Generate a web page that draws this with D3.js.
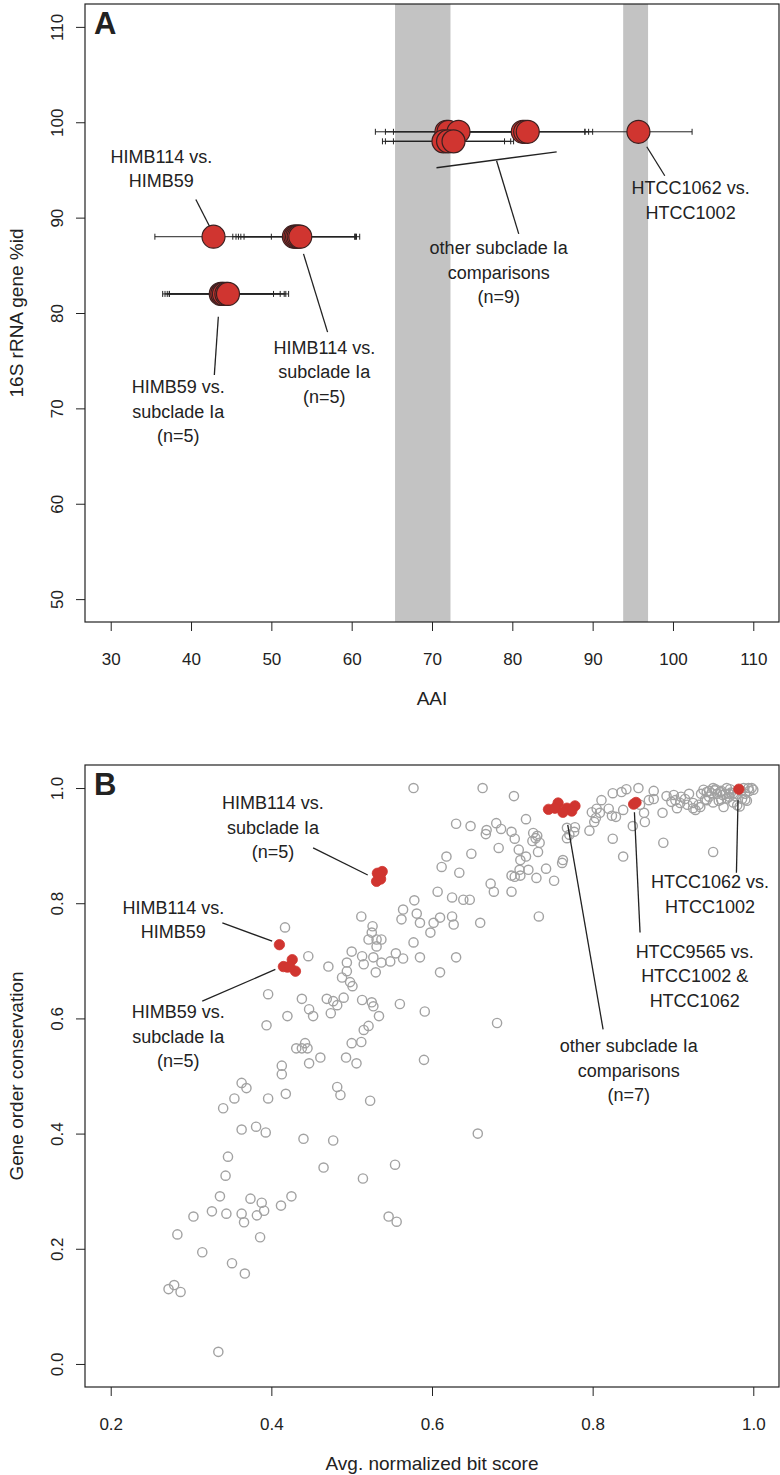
<!DOCTYPE html>
<html><head><meta charset="utf-8">
<script src="https://cdn.jsdelivr.net/npm/d3@7"></script>
<style>body{margin:0;background:#fff}svg{display:block}text{font-family:"Liberation Sans",Arial,sans-serif;fill:#222}</style>
</head><body><svg id="c" width="780" height="1475"></svg>
<script>
// ---------- Panel A data ----------
const aTicksX = [30,40,50,60,70,80,90,100,110];
const aTicksY = [50,60,70,80,90,100,110];
const aBands = [[65.4,72.3],[93.8,96.9]];
// points: AAI, 16S id, error low, error high
const aAAI   = [42.8, 52.8,53.0,53.2,53.4,53.6, 43.7,43.9,44.1,44.4,44.6, 71.8,72.06,73.3,81.3,81.6,81.92, 71.43,72.0,72.68, 95.7];
const aRRNA  = [88, 88,88,88,88,88, 82,82,82,82,82, 99,99,99,99,99,99, 98,98,98, 99];
const aErrLo = [35.5, 45.2,45.6,45.9,46.2,46.6, 36.47,36.76,37.04,37.3,37.3, 62.95,64.2,65.2,73.4,73.7,74.05, 63.83,64.2,65.2, 89.04];
const aErrHi = [50.0, 60.4,60.4,60.5,60.6,61.0, 50.27,51.1,51.6,52.15,51.8, 80.65,79.96,81.4,89.04,89.5,90.0, 79.03,79.8,80.16, 102.38];
const aLabels = [
  {lines:["HIMB114 vs.","HIMB59"], x:36.3, y:96.4, seg:[[40.6,91.9],[42.3,89.1]]},
  {lines:["HIMB59 vs.","subclade Ia","(n=5)"], x:38.4, y:72.2, seg:[[43.4,79.6],[42.9,73.5]]},
  {lines:["HIMB114 vs.","subclade Ia","(n=5)"], x:56.6, y:76.35, seg:[[54.0,86.2],[57.0,78.0]]},
  {lines:["other subclade Ia","comparisons","(n=9)"], x:78.3, y:86.8, seg:[[78.04,95.96],[80.8,88.3]], bracket:[[70.56,95.23],[85.52,96.9]]},
  {lines:["HTCC1062 vs.","HTCC1002"], x:102.2, y:93.1, seg:[[96.74,97.43],[98.98,94.39]]}
];

// ---------- Panel B data ----------
const bTicksX = [0.2,0.4,0.6,0.8,1.0];
const bTicksY = [0.0,0.2,0.4,0.6,0.8,1.0];
const grayX = [0.577,0.663,0.702,0.630,0.648,0.667,0.668,0.680,0.686,0.699,0.703,0.717,0.726,0.729,0.734,0.725,0.683,0.649,0.618,0.612,0.634,0.673,0.677,0.699,0.699,0.708,0.710,0.717,0.720,0.709,0.703,0.710,0.731,0.732,0.742,0.730,0.752,0.763,0.762,0.768,0.771,0.777,0.768,0.778,0.796,0.802,0.804,0.805,0.811,0.820,0.825,0.836,0.842,0.857,0.829,0.825,0.838,0.850,0.864,0.865,0.876,0.876,0.888,0.887,0.892,0.898,0.901,0.903,0.909,0.915,0.918,0.925,0.932,0.938,0.942,0.948,0.953,0.959,0.963,0.950,0.967,0.971,0.975,0.988,0.994,1.000,0.986,0.934,0.928,0.942,0.799,0.809,0.824,0.838,0.859,0.870,
0.945,0.950,0.955,0.960,0.965,0.970,0.975,0.980,0.985,0.990,0.995,0.998,0.990,0.980,0.970,0.960,0.950,0.940,0.935,0.945,0.905,0.910,0.920,0.925,0.957,0.967,0.978,0.992,0.983,0.962,0.952,0.972,
0.533,0.607,0.625,0.578,0.564,0.562,0.581,0.585,0.602,0.598,0.610,0.625,0.627,0.639,0.647,0.660,0.733,0.630,0.610,0.681,0.657,0.512,0.526,0.525,0.521,0.531,0.537,0.531,0.577,0.417,0.446,0.471,0.500,0.494,0.513,0.515,0.527,0.537,0.548,0.555,0.564,0.585,0.530,0.494,0.488,0.498,0.501,0.490,0.477,0.469,0.396,0.438,0.513,0.525,0.527,0.560,0.591,
0.394,0.420,0.447,0.452,0.474,0.482,0.534,0.521,0.515,0.500,0.512,0.431,0.438,0.442,0.445,0.461,0.447,0.493,0.506,0.590,0.413,0.413,0.363,0.369,0.354,0.340,0.396,0.418,0.482,0.486,0.523,0.363,0.381,0.393,0.440,0.477,0.346,0.343,0.465,0.514,0.554,0.336,0.374,0.388,0.425,0.326,0.344,0.363,0.366,0.382,0.391,0.412,0.303,0.386,0.283,0.314,0.351,0.367,0.546,0.556,0.272,0.279,0.287,0.334];
const grayY = [1.000,1.000,0.986,0.938,0.934,0.920,0.927,0.939,0.929,0.924,0.912,0.946,0.922,0.913,0.905,0.908,0.896,0.886,0.881,0.863,0.853,0.834,0.820,0.848,0.820,0.893,0.875,0.881,0.858,0.858,0.846,0.848,0.917,0.889,0.860,0.844,0.839,0.875,0.870,0.913,0.919,0.924,0.931,0.932,0.926,0.941,0.948,0.964,0.979,0.964,0.991,0.993,0.998,1.000,0.950,0.912,0.881,0.934,0.957,0.941,0.995,0.981,0.905,0.957,0.986,0.976,0.988,0.979,0.974,0.981,0.971,0.974,0.971,0.997,0.993,0.991,0.998,0.993,0.967,0.889,1.000,0.998,0.991,1.000,1.000,0.997,0.981,0.967,0.962,0.979,0.958,0.957,0.952,0.962,0.971,0.979,
0.985,0.975,0.990,0.980,0.990,0.985,0.975,0.990,0.995,0.990,0.995,1.000,0.980,0.970,0.990,0.995,1.000,0.980,0.990,0.995,0.965,0.985,0.990,0.965,0.978,0.982,0.986,0.978,0.968,0.988,0.996,0.992,
0.849,0.820,0.810,0.805,0.789,0.772,0.782,0.766,0.766,0.749,0.775,0.777,0.763,0.806,0.806,0.766,0.777,0.706,0.680,0.592,0.400,0.777,0.760,0.749,0.737,0.737,0.737,0.725,0.732,0.758,0.708,0.690,0.716,0.697,0.708,0.694,0.706,0.697,0.699,0.713,0.704,0.706,0.680,0.682,0.671,0.663,0.656,0.636,0.630,0.634,0.642,0.634,0.632,0.628,0.621,0.625,0.612,
0.588,0.604,0.616,0.604,0.609,0.623,0.604,0.587,0.580,0.557,0.559,0.548,0.548,0.557,0.548,0.532,0.522,0.532,0.522,0.528,0.518,0.503,0.488,0.479,0.461,0.444,0.461,0.469,0.481,0.467,0.457,0.407,0.412,0.402,0.391,0.388,0.360,0.327,0.341,0.322,0.346,0.291,0.287,0.280,0.291,0.265,0.261,0.261,0.246,0.258,0.266,0.275,0.256,0.220,0.225,0.194,0.175,0.157,0.256,0.247,0.130,0.137,0.125,0.021];
const redX = [0.982, 0.851,0.854, 0.745,0.757,0.768,0.778,0.753,0.774,0.763, 0.532,0.538,0.531,0.536,0.535, 0.410, 0.420,0.426,0.430,0.415,0.423];
const redY = [0.998, 0.972,0.975, 0.963,0.974,0.965,0.969,0.965,0.960,0.958, 0.852,0.855,0.838,0.842,0.848, 0.728, 0.689,0.702,0.682,0.690,0.690];
const bLabels = [
  {lines:["HIMB114 vs.","subclade Ia","(n=5)"], x:0.402, y:0.974, seg:[[0.452,0.896],[0.520,0.849]]},
  {lines:["HIMB114 vs.","HIMB59"], x:0.278, y:0.792, seg:[[0.339,0.766],[0.401,0.734]]},
  {lines:["HIMB59 vs.","subclade Ia","(n=5)"], x:0.284, y:0.611, seg:[[0.314,0.630],[0.405,0.685]]},
  {lines:["HTCC1062 vs.","HTCC1002"], x:0.946, y:0.836, seg:[[0.981,0.979],[0.979,0.853]]},
  {lines:["HTCC9565 vs.","HTCC1002 &","HTCC1062"], x:0.927, y:0.716, seg:[[0.852,0.958],[0.859,0.749]]},
  {lines:["other subclade Ia","comparisons","(n=7)"], x:0.845, y:0.552, seg:[[0.769,0.936],[0.813,0.581]]}
];

// ---------- drawing ----------
const svg = d3.select("#c");
const RED = "#d03530", GRAY = "#a2a2a2";
const lineH = 24.5;

function ext(lo,hi){const e=(hi-lo)*0.04;return [lo-e,hi+e];}

function panel(o){
  const g = svg.append("g");
  const x = d3.scaleLinear().domain(ext(o.xd[0],o.xd[1])).range([o.left,o.right]);
  const y = d3.scaleLinear().domain(ext(o.yd[0],o.yd[1])).range([o.bottom,o.top]);
  const ax = g.append("g").attr("transform",`translate(0,${o.bottom})`)
    .call(d3.axisBottom(x).tickValues(o.tx).tickSize(9).tickFormat(o.fmt));
  const ay = g.append("g").attr("transform",`translate(${o.left},0)`)
    .call(d3.axisLeft(y).tickValues(o.ty).tickSize(9).tickFormat(o.fmt));
  [ax,ay].forEach(a=>{a.select(".domain").remove();a.selectAll("line").attr("stroke","#222");
    a.selectAll("text").attr("font-size",17).attr("fill","#222").style("font-family","Liberation Sans, Arial, sans-serif");});
  ax.selectAll("text").attr("dy",null).attr("dominant-baseline","central").attr("y",37);
  ay.selectAll(".tick text").attr("x",null).attr("dy",null).attr("y",null).attr("text-anchor","middle")
    .attr("dominant-baseline","central").attr("transform","translate(-28,0) rotate(-90)");
  g.append("text").attr("x",(o.left+o.right)/2).attr("y",o.bottom+76).attr("text-anchor","middle")
    .attr("dominant-baseline","central").attr("font-size",19).text(o.xt);
  g.append("text").attr("transform",`translate(16,${(o.top+o.bottom)/2}) rotate(-90)`).attr("text-anchor","middle")
    .attr("dominant-baseline","central").attr("font-size",19).text(o.yt);
  return {g,x,y};
}

function box(g,o){
  g.append("rect").attr("x",o.left).attr("y",o.top).attr("width",o.right-o.left).attr("height",o.bottom-o.top)
   .attr("fill","none").attr("stroke","#222").attr("stroke-width",1.2);
  g.append("text").attr("x",o.left+9).attr("y",o.top+30).attr("font-size",31).attr("font-weight","bold").text(o.tag);
}

function annot(g,x,y,list){
  list.forEach(a=>{
    const t = g.append("text").attr("text-anchor","middle").attr("font-size",18).attr("fill","#222");
    a.lines.forEach((s,i)=>t.append("tspan").attr("x",x(a.x)).attr("y",y(a.y)+i*lineH).attr("dominant-baseline","central").text(s));
    const segs=[a.seg]; if(a.bracket) segs.push(a.bracket);
    segs.forEach(s=>g.append("line").attr("x1",x(s[0][0])).attr("y1",y(s[0][1])).attr("x2",x(s[1][0])).attr("y2",y(s[1][1]))
      .attr("stroke","#222").attr("stroke-width",1.3));
  });
}

// Panel A
const oA = {left:85,right:779,top:4,bottom:622,xd:[30,110],yd:[50,110],tx:aTicksX,ty:aTicksY,fmt:d3.format("d"),
  xt:"AAI",yt:"16S rRNA gene %id",tag:"A"};
const A = panel(oA);
aBands.forEach(b=>A.g.append("rect").attr("x",A.x(b[0])).attr("y",oA.top).attr("width",A.x(b[1])-A.x(b[0]))
  .attr("height",oA.bottom-oA.top).attr("fill","#c3c3c3"));
const idx = d3.range(aAAI.length);
idx.forEach(i=>{
  const yy=A.y(aRRNA[i]);
  A.g.append("line").attr("x1",A.x(aErrLo[i])).attr("x2",A.x(aErrHi[i])).attr("y1",yy).attr("y2",yy).attr("stroke","#222").attr("stroke-width",1);
  [aErrLo[i],aErrHi[i]].forEach(v=>A.g.append("line").attr("x1",A.x(v)).attr("x2",A.x(v)).attr("y1",yy-3).attr("y2",yy+3).attr("stroke","#222").attr("stroke-width",1));
});
A.g.selectAll("circle.pa").data(idx).join("circle").attr("cx",i=>A.x(aAAI[i])).attr("cy",i=>A.y(aRRNA[i])).attr("r",11.5)
  .attr("fill",RED).attr("stroke","#3a2020").attr("stroke-width",1.2);
annot(A.g,A.x,A.y,aLabels);
box(A.g,oA);

// Panel B
const oB = {left:85,right:779,top:765,bottom:1387,xd:[0.2,1.0],yd:[0,1],tx:bTicksX,ty:bTicksY,fmt:d3.format(".1f"),
  xt:"Avg. normalized bit score",yt:"Gene order conservation",tag:"B"};
const B = panel(oB);
B.g.selectAll("circle.gr").data(d3.range(grayX.length)).join("circle").attr("cx",i=>B.x(grayX[i])).attr("cy",i=>B.y(grayY[i]))
  .attr("r",4.6).attr("fill","none").attr("stroke",GRAY).attr("stroke-width",1.4);
B.g.selectAll("circle.rd").data(d3.range(redX.length)).join("circle").attr("cx",i=>B.x(redX[i])).attr("cy",i=>B.y(redY[i]))
  .attr("r",5.2).attr("fill",RED).attr("stroke",RED).attr("stroke-width",0.8);
annot(B.g,B.x,B.y,bLabels);
box(B.g,oB);
</script></body></html>
